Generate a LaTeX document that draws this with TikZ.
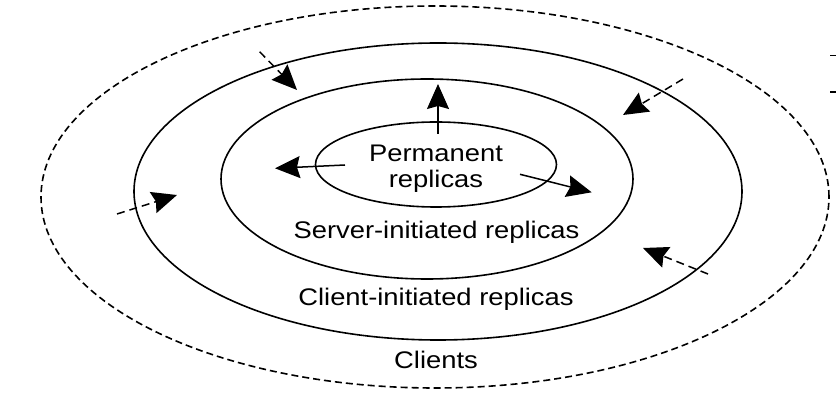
\documentclass[tikz,border=0pt]{standalone}
\usepackage{fontspec}
\setmainfont{Liberation Sans}[FakeStretch=1.14]
\usetikzlibrary{arrows.meta,shapes.geometric}

\tikzset{
  ring/.style={draw, ellipse, inner sep=0pt, line width=1.6pt},
  ringtext/.style={font=\fontsize{24}{26}\selectfont, inner sep=0pt, anchor=base, align=center},
  outarrow/.style={line width=1.5pt, -{Stealth[length=25pt, width=22pt, inset=3pt]}},
  inarrow/.style={outarrow, dash pattern=on 8pt off 5pt},
}

\begin{document}
\begin{tikzpicture}[x=1pt, y=-1pt]
  \useasboundingbox (0,0) rectangle (836,411);

  % rings
  \node (clients) [ring, dash pattern=on 7pt off 4pt, minimum width=788pt, minimum height=382pt] at (435,197) {};
  \node (client)  [ring, minimum width=608pt, minimum height=297pt] at (438,191.5) {};
  \node (server)  [ring, minimum width=412pt, minimum height=200pt] at (427,179) {};
  \node (perm)    [ring, minimum width=241pt, minimum height=85pt] at (436,164.5) {};

  % texts (base = last line)
  \node (permtext)    [ringtext] at (436,188) {Permanent\\replicas};
  \node (servertext)  [ringtext] at (436.5,239) {Server-initiated replicas};
  \node (clienttext)  [ringtext] at (436,306) {Client-initiated replicas};
  \node (clientstext) [ringtext] at (436,369) {Clients};

  % arrow ends
  \coordinate (up0) at (438,134);     \coordinate (up1) at (438,84);
  \coordinate (left0) at (345,165);   \coordinate (left1) at (275,168.3);
  \coordinate (right0) at (520,174.3);\coordinate (right1) at (591.7,192.3);
  \coordinate (tl0) at (259.6,51.7);  \coordinate (tl1) at (297,90);
  \coordinate (tr0) at (683,79);      \coordinate (tr1) at (623,115);
  \coordinate (l0) at (117,214);      \coordinate (l1) at (177,195);
  \coordinate (br0) at (708,274);     \coordinate (br1) at (643,248);
  \coordinate (stubA0) at (830,55.7); \coordinate (stubA1) at (836,55.7);
  \coordinate (stubB0) at (830,92.3); \coordinate (stubB1) at (836,92.3);

  % server-initiated
  \draw[outarrow] (up0) -- (up1);
  \draw[outarrow] (left0) -- (left1);
  \draw[outarrow] (right0) -- (right1);

  % client-initiated
  \draw[inarrow] (tl0) -- (tl1);
  \draw[inarrow] (tr0) -- (tr1);
  \draw[inarrow] (l0) -- (l1);
  \draw[inarrow] (br0) -- (br1);

  % cut-off marks at the right edge
  \draw[line width=1.6pt] (stubA0) -- (stubA1);
  \draw[line width=1.6pt] (stubB0) -- (stubB1);
\end{tikzpicture}
\end{document}
